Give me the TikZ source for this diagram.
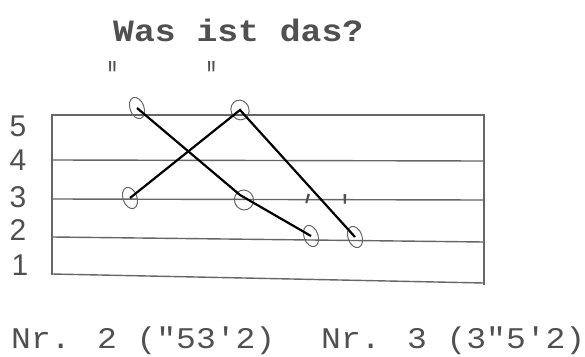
\documentclass[tikz,border=0pt]{standalone}
\usepackage{fontspec}
\newfontfamily\typew{Liberation Mono}
\newfontfamily\hand{Liberation Sans}
\usetikzlibrary{shapes.geometric}
\definecolor{ink}{HTML}{505050}
\definecolor{pencil}{HTML}{666666}
\begin{document}
\begin{tikzpicture}[x=1pt,y=-1pt,
  staffline/.style={draw=pencil, line width=1.4pt},
  note/.style={ellipse, draw=pencil, line width=1pt, minimum width=14pt, minimum height=22pt, inner sep=0pt, rotate=20},
  connector/.style={draw=black, line width=2.2pt},
  titletext/.style={text=ink, inner sep=0pt, anchor=base west, font=\typew\bfseries\fontsize{31}{31}\selectfont},
  typed/.style={text=ink, inner sep=0pt, anchor=base west, font=\typew\fontsize{30}{30}\selectfont},
  digit/.style={text=ink, inner sep=0pt, font=\hand\fontsize{30}{30}\selectfont},
  octmark/.style={text=ink, inner sep=0pt, font=\hand\fontsize{30}{30}\selectfont}
]
\useasboundingbox (0,0) rectangle (585,356);

% title
\node[titletext] (title) at (113,41) {\scalebox{1.12}[1]{Was ist das?}};

% staff
\draw[staffline] (52,115) -- (484,115);
\draw[staffline] (53,160) -- (484,161);
\draw[staffline] (53,199) -- (484,200);
\draw[staffline] (53,237) -- (484,242);
\draw[staffline] (52,274) -- (484,283);
\draw[staffline] (52,114) -- (52,275);
\draw[staffline] (484,114) -- (484,285);

% line numbers
\node[digit] (n5) at (18,126) {5};
\node[digit] (n4) at (18,160) {4};
\node[digit] (n3) at (18,197) {3};
\node[digit] (n2) at (18,230) {2};
\node[digit] (n1) at (20,265) {1};

% notes
\node[note] (A) at (137,108) {};
\node[note, minimum width=18pt, minimum height=20pt] (B) at (240,110) {};
\node[note] (C) at (130,198) {};
\node[note, minimum width=19pt, minimum height=20pt] (D) at (244,200) {};
\node[note] (E) at (311,236) {};
\node[note] (F) at (355,237) {};

% octave marks
\node[octmark] (qa) at (113,78) {\scalebox{0.8}[1.6]{"}};
\node[octmark] (qb) at (212,78) {\scalebox{0.8}[1.6]{"}};
\node[octmark, rotate=-15] (te) at (305,209) {\scalebox{1}[1.5]{'}};
\node[octmark] (tf) at (345,210) {\scalebox{1}[1.5]{'}};

% connectors
\coordinate (Dbend) at (240,195);
\draw[connector] (A.center) -- (Dbend) -- (E.center);
\draw[connector] (C.center) -- (B.center) -- (F.center);

% bottom captions
\node[typed] (cap2) at (11,348) {\scalebox{1.1}[1]{Nr. 2 ("53'2)}};
\node[typed] (cap3) at (321,348) {\scalebox{1.1}[1]{Nr. 3 (3"5'2)}};
\end{tikzpicture}
\end{document}
